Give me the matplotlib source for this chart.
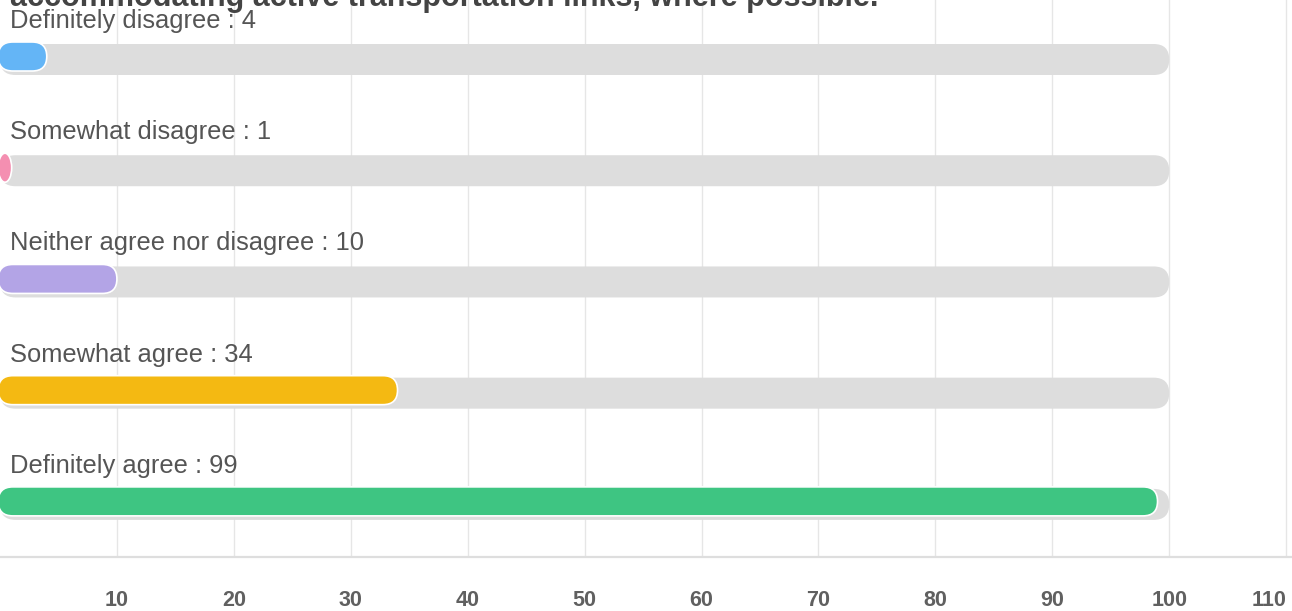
import numpy as np
import matplotlib
matplotlib.use("Agg")
import matplotlib.pyplot as plt
from matplotlib.patches import FancyBboxPatch, Ellipse

plt.rcParams['font.family'] = ['Liberation Sans', 'DejaVu Sans']

# data
categories = ["Definitely disagree", "Somewhat disagree", "Neither agree nor disagree",
              "Somewhat agree", "Definitely agree"]
counts = [4, 1, 10, 34, 99]
colors = ["#64b5f6", "#f48fb1", "#b3a4e6", "#f4b912", "#3ec582"]
track_max = 100
ticks = [10, 20, 30, 40, 50, 60, 70, 80, 90, 100, 110]
title = "accommodating active transportation links, where possible."

W, H = 1292, 611
fig = plt.figure(figsize=(W / 100, H / 100), dpi=100)
ax_bottom = 557
ax = fig.add_axes([0, (H - ax_bottom) / H, 1, ax_bottom / H])

xmax = 110.5
ymin, ymax = 4.5, -0.508
ax.set_xlim(0, xmax)
ax.set_ylim(ymin, ymax)

px_x = W / xmax                    # pixels per x unit
px_y = ax_bottom / (ymin - ymax)   # pixels per category unit
aspect = px_x / px_y


def rounded_bar(x0, x1, yc, h, **kw):
    w = x1 - x0
    half_h_x = (h * px_y / 2) / px_x
    if w < 2 * half_h_x:
        # too short for a pill: draw an ellipse instead
        ax.add_patch(Ellipse((x0 + w / 2, yc), w, h, **kw))
        return
    p = FancyBboxPatch((x0, yc - h / 2), w, h,
                       boxstyle=f"round,pad=0,rounding_size={half_h_x}",
                       mutation_aspect=aspect, **kw)
    ax.add_patch(p)


for i, (cat, n, c) in enumerate(zip(categories, counts, colors)):
    # grey track (slightly offset like a shadow)
    rounded_bar(0, track_max, i + 3 / px_y, 31 / px_y, facecolor="#dddddd",
                edgecolor="none", zorder=2)
    rounded_bar(-0.15, n, i, 29 / px_y, facecolor=c, edgecolor="white",
                linewidth=1.2, zorder=3)
    ax.text(10 / px_x, i - 28.5 / px_y, f"{cat} : {n}", fontsize=18.4,
            color="#555555", va="baseline", ha="left", zorder=4)

ax.set_xticks(ticks)
labels = ax.set_xticklabels([str(t) for t in ticks], fontsize=15.5,
                            fontweight="bold", color="#606060")
labels[-1].set_horizontalalignment("right")
ax.tick_params(axis="x", length=0, pad=24)
ax.set_yticks([])
ax.grid(axis="x", color="#e6e6e6", linewidth=1, zorder=0)
ax.set_axisbelow(True)
for s in ["top", "left", "right"]:
    ax.spines[s].set_visible(False)
ax.spines["bottom"].set_color("#dedede")
ax.spines["bottom"].set_linewidth(1.6)

fig.text(10 / W, 1 - 6 / H, title, fontsize=22, fontweight="bold",
         color="#444444", va="baseline", ha="left")

fig.savefig("out.png", dpi=100)
